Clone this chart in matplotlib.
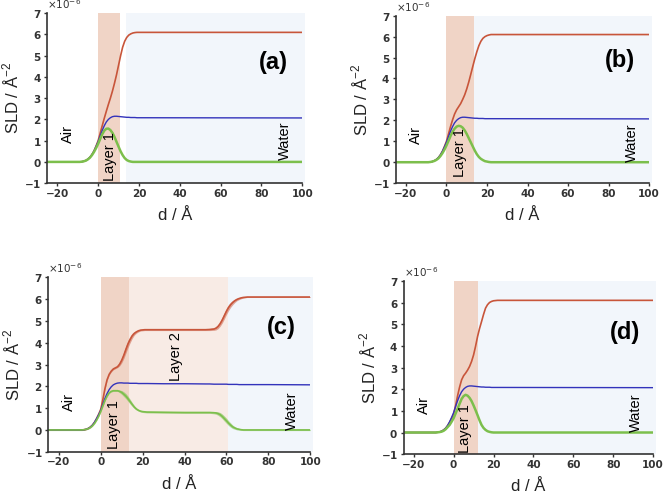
import numpy as np
import matplotlib
matplotlib.use("Agg")
from matplotlib import pyplot as plt
from matplotlib.ticker import ScalarFormatter

# depth (Angstrom) and SLD values (units of 1e-6 A^-2)
d_a = [-25, -9, -8, -7, -6, -5, -4, -3, -2, -1, 0, 1, 2, 3, 4, 5, 6, 7, 8, 9, 10,
       11, 12, 13, 14, 15, 16, 17, 18, 19, 20, 100]
red_a = [0, 0, 0.01, 0.03, 0.07, 0.13, 0.22, 0.35, 0.52, 0.75, 1.0, 1.35, 1.7, 2.05, 2.38, 2.7,
         3.0, 3.33, 3.7, 4.1, 4.55, 5.0, 5.4, 5.68, 5.86, 5.97, 6.03, 6.07, 6.09, 6.1, 6.1, 6.1]
blue_a = [0, 0, 0.01, 0.03, 0.07, 0.13, 0.22, 0.35, 0.52, 0.73, 0.95, 1.22, 1.48, 1.7, 1.88, 2.0,
          2.08, 2.13, 2.15, 2.15, 2.14, 2.13, 2.12, 2.11, 2.1, 2.1, 2.09, 2.09, 2.09, 2.08, 2.08, 2.07]
green_a = [0, 0, 0.01, 0.03, 0.06, 0.12, 0.2, 0.32, 0.47, 0.65, 0.85, 1.08, 1.3, 1.47, 1.56, 1.57,
           1.5, 1.37, 1.18, 0.95, 0.72, 0.5, 0.32, 0.18, 0.09, 0.04, 0.015, 0, 0, 0, 0, 0]

d_b = [-25, -9, -8, -7, -6, -5, -4, -3, -2, -1, 0, 1, 2, 3, 4, 5, 6, 7, 8, 9, 10,
       11, 12, 13, 14, 15, 16, 17, 18, 19, 20, 21, 22, 100]
red_b = [0, 0, 0.01, 0.03, 0.07, 0.13, 0.22, 0.35, 0.52, 0.75, 1.0, 1.35, 1.7, 2.02, 2.3, 2.5,
         2.65, 2.8, 3.0, 3.22, 3.5, 3.83, 4.2, 4.58, 4.95, 5.28, 5.57, 5.78, 5.92, 6.0, 6.05,
         6.08, 6.1, 6.1]
blue_b = [0, 0, 0.01, 0.03, 0.07, 0.13, 0.22, 0.35, 0.52, 0.73, 0.95, 1.22, 1.48, 1.7, 1.88, 2.0,
          2.08, 2.13, 2.15, 2.15, 2.14, 2.13, 2.12, 2.11, 2.1, 2.1, 2.09, 2.09, 2.09, 2.08, 2.08,
          2.08, 2.08, 2.07]
green_b = [0, 0, 0.01, 0.03, 0.06, 0.11, 0.18, 0.29, 0.43, 0.6, 0.8, 1.02, 1.25, 1.45, 1.6, 1.7,
           1.74, 1.72, 1.65, 1.52, 1.35, 1.15, 0.95, 0.75, 0.55, 0.38, 0.25, 0.16, 0.1, 0.05, 0.03,
           0.01, 0, 0]

d_c = [-25, -9, -8, -7, -6, -5, -4, -3, -2, -1, 0, 1, 2, 3, 4, 5, 6, 7, 8, 9, 10,
       11, 12, 13, 14, 15, 16, 17, 18, 19, 20, 21, 22, 30, 40, 50, 52,
       54, 55, 56, 57, 58, 59, 60, 61, 62, 63, 64, 65, 66, 67, 68, 70, 80, 100]
red_c = [0, 0, 0.01, 0.03, 0.07, 0.13, 0.22, 0.35, 0.52, 0.72, 0.95, 1.4, 1.9, 2.3, 2.55, 2.7,
         2.8, 2.85, 2.9, 3.02, 3.2, 3.43, 3.7, 3.95, 4.15, 4.32, 4.43, 4.5, 4.55, 4.58, 4.59,
         4.6, 4.6, 4.6, 4.6, 4.6, 4.61,
         4.63, 4.67, 4.75, 4.88, 5.05, 5.25, 5.45, 5.62, 5.75, 5.85, 5.93, 5.99, 6.03, 6.06, 6.08,
         6.1, 6.1, 6.1]
red_c_spread = [0.02, 0.02, 0.02, 0.02, 0.02, 0.02, 0.02, 0.02, 0.02, 0.02, 0.04, 0.04, 0.04, 0.04,
                0.04, 0.04, 0.04, 0.04, 0.04, 0.08, 0.12, 0.15, 0.17, 0.17, 0.15, 0.12, 0.08, 0.06,
                0.05, 0.04, 0.04, 0.04, 0.04, 0.04, 0.04, 0.04, 0.05,
                0.06, 0.08, 0.1, 0.12, 0.14, 0.15, 0.15, 0.14, 0.12, 0.1, 0.08, 0.06, 0.05, 0.04,
                0.03, 0.02, 0.02, 0.02]
blue_c = [0, 0, 0.01, 0.03, 0.07, 0.13, 0.22, 0.35, 0.52, 0.7, 0.9, 1.18, 1.45, 1.67, 1.85, 1.98,
          2.07, 2.12, 2.15, 2.16, 2.16, 2.15, 2.15, 2.15, 2.14, 2.14, 2.14, 2.14, 2.13, 2.13, 2.13,
          2.13, 2.13, 2.12, 2.12, 2.11, 2.11,
          2.1, 2.1, 2.1, 2.1, 2.1, 2.1, 2.1, 2.09, 2.09, 2.09, 2.09, 2.09, 2.08, 2.08, 2.08,
          2.08, 2.08, 2.07]
green_c = [0, 0, 0.01, 0.03, 0.06, 0.11, 0.19, 0.3, 0.45, 0.63, 0.85, 1.1, 1.35, 1.55, 1.7, 1.77,
           1.8, 1.8, 1.8, 1.77, 1.72, 1.64, 1.55, 1.43, 1.3, 1.17, 1.05, 0.96, 0.9, 0.86, 0.84,
           0.83, 0.82, 0.81, 0.8, 0.8, 0.8,
           0.79, 0.78, 0.75, 0.7, 0.62, 0.52, 0.42, 0.31, 0.22, 0.14, 0.09, 0.05, 0.03, 0.01, 0,
           0, 0, 0]
green_c_spread = [0.03, 0.03, 0.03, 0.03, 0.03, 0.03, 0.03, 0.03, 0.03, 0.03, 0.03, 0.03, 0.03,
                  0.03, 0.03, 0.03, 0.03, 0.03, 0.03, 0.06, 0.09, 0.11, 0.12, 0.12, 0.11, 0.09,
                  0.07, 0.05, 0.04, 0.04, 0.04, 0.04, 0.04, 0.04, 0.04, 0.04, 0.04,
                  0.05, 0.06, 0.08, 0.1, 0.11, 0.12, 0.12, 0.11, 0.1, 0.08, 0.06, 0.05, 0.04, 0.03,
                  0.03, 0.03, 0.03, 0.03]

d_d = [-25, -9, -8, -7, -6, -5, -4, -3, -2, -1, 0, 1, 2, 3, 4, 5, 6, 7, 8, 9, 10,
       11, 12, 13, 14, 15, 16, 17, 18, 19, 20, 21, 22, 100]
red_d = [0, 0, 0.01, 0.03, 0.06, 0.12, 0.2, 0.32, 0.47, 0.65, 0.85, 1.25, 1.7, 2.1, 2.43, 2.62,
         2.74, 2.88, 3.05, 3.28, 3.58, 3.98, 4.43, 4.8, 5.12, 5.45, 5.74, 5.9, 6.0, 6.05, 6.08,
         6.09, 6.1, 6.1]
blue_d = [0, 0, 0.01, 0.03, 0.06, 0.12, 0.2, 0.33, 0.5, 0.7, 0.92, 1.2, 1.47, 1.7, 1.88, 2.0,
          2.08, 2.13, 2.15, 2.15, 2.14, 2.13, 2.12, 2.11, 2.1, 2.1, 2.09, 2.09, 2.09, 2.08, 2.08,
          2.08, 2.08, 2.07]
green_d = [0, 0, 0.01, 0.02, 0.04, 0.08, 0.15, 0.25, 0.35, 0.5, 0.66, 0.88, 1.1, 1.33, 1.55, 1.68,
           1.74, 1.7, 1.6, 1.45, 1.25, 1.03, 0.8, 0.56, 0.35, 0.21, 0.12, 0.06, 0.03, 0.01, 0,
           0, 0, 0]

# layer boundaries (Angstrom)
layer1 = {"a": (0, 10.5), "b": (0, 13.4), "c": (0, 13.3), "d": (0, 12)}
layer2_c = (13.3, 60.8)
water = {"a": 13.5, "b": 13.4, "c": 60.8, "d": 12}

panels = [
    ("a", [0.071, 0.627, 0.385, 0.346], d_a, red_a, blue_a, green_a),
    ("b", [0.597, 0.627, 0.382, 0.341], d_b, red_b, blue_b, green_b),
    ("c", [0.073, 0.080, 0.395, 0.355], d_c, red_c, blue_c, green_c),
    ("d", [0.609, 0.075, 0.376, 0.353], d_d, red_d, blue_d, green_d),
]

# label positions (d, SLD) per panel
air_pos = {"a": (-15, 1.3), "b": (-15, 1.3), "c": (-15.2, 1.3), "d": (-15, 1.25)}
l1_pos = {"a": (5.6, 0.25), "b": (6.6, 0.45), "c": (6.4, 0.25), "d": (5.7, 0.2)}
water_pos = {"a": (91.7, 1.0), "b": (91.4, 0.95), "c": (91.2, 0.9), "d": (91.6, 0.9)}
tag_pos = {"a": (85.6, 4.7), "b": (85.8, 4.85), "c": (86.4, 4.7), "d": (85.7, 4.6)}

c_red = "#c8553a"
c_blue = "#3333bb"
c_green = "#7cbf4c"
sans = ["Liberation Sans", "DejaVu Sans"]

fig = plt.figure(figsize=(6.63, 4.91), dpi=100)

for tag, rect, d, red, blue, green in panels:
    ax = fig.add_axes(rect)
    s = 1e-6
    ax.axvspan(layer1[tag][0], layer1[tag][1], color="#f0d4c6", lw=0, zorder=0)
    if tag == "c":
        ax.axvspan(layer2_c[0], layer2_c[1], color="#f8ebe5", lw=0, zorder=0)
    ax.axvspan(water[tag], 101.5, color="#f2f6fb", lw=0, zorder=0, clip_on=False)

    d = np.array(d)
    red = np.array(red)
    green = np.array(green)
    if tag == "c":
        # posterior spread shown as a pale band
        rs = np.array(red_c_spread)
        gs = np.array(green_c_spread)
        ax.fill_between(d, (red - rs) * s, (red + rs) * s, color=c_red, alpha=0.5, lw=0)
        ax.fill_between(d, (green - gs) * s, (green + gs) * s, color=c_green, alpha=0.55, lw=0)
    ax.plot(d, red * s, color=c_red, lw=1.2)
    ax.plot(d, np.array(blue) * s, color=c_blue, lw=1.0)
    ax.plot(d, green * s, color=c_green, lw=1.8 if tag != "c" else 1.2)

    ax.set_xlim(-25, 100)
    ax.set_ylim(-1e-6, 7e-6)
    ax.set_xticks([-20, 0, 20, 40, 60, 80, 100])
    ax.set_yticks(np.arange(-1, 8) * 1e-6)
    fmt = ScalarFormatter(useMathText=True)
    fmt.set_powerlimits((-3, 3))
    ax.yaxis.set_major_formatter(fmt)
    ax.yaxis.get_offset_text().set_fontsize(7.5)
    ax.yaxis.get_offset_text().set_color("#333333")

    for sp in ["top", "right"]:
        ax.spines[sp].set_visible(False)
    for sp in ["left", "bottom"]:
        ax.spines[sp].set_color("#333333")
        ax.spines[sp].set_linewidth(1.2)
    ax.tick_params(labelsize=7.5, colors="#333333", length=2.5, width=1, pad=1.5)
    for lab in ax.get_xticklabels() + ax.get_yticklabels():
        lab.set_fontweight("bold")

    ax.set_xlabel("d / Å", fontsize=12, family=sans, color="#222222", labelpad=7)
    ax.set_ylabel("SLD / Å$^{\\mathregular{-2}}$", fontsize=12, family=sans,
                  color="#222222", labelpad=2)

    ax.text(air_pos[tag][0], air_pos[tag][1] * s, "Air", family=sans,
            rotation=90, ha="center", va="center", fontsize=10.5)
    ax.text(l1_pos[tag][0], l1_pos[tag][1] * s, "Layer 1", family=sans,
            rotation=90, ha="center", va="center", fontsize=10.5)
    if tag == "c":
        ax.text(36, 3.36e-6, "Layer 2", family=sans,
                rotation=90, ha="center", va="center", fontsize=10.5)
    ax.text(water_pos[tag][0], water_pos[tag][1] * s, "Water", family=sans,
            rotation=90, ha="center", va="center", fontsize=10.5)
    ax.text(tag_pos[tag][0], tag_pos[tag][1] * s, "(%s)" % tag, family=sans,
            ha="center", va="center", fontsize=17, fontweight="bold")

fig.savefig("out.png", dpi=100)
